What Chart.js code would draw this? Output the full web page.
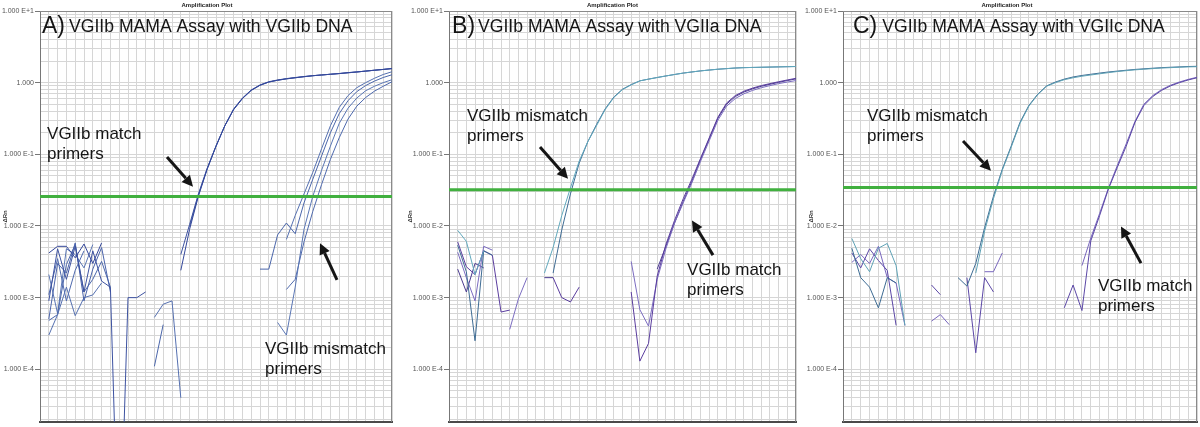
<!DOCTYPE html>
<html>
<head>
<meta charset="utf-8">
<script src="https://cdn.jsdelivr.net/npm/chart.js@4"></script>
<style>
  html, body { margin: 0; padding: 0; background: #fff; }
  body { width: 1200px; height: 427px; position: relative; overflow: hidden; }
  .panel { position: absolute; top: 0; height: 427px; }
</style>
</head>
<body>
<div class="panel" style="left:0;width:396px"><canvas id="panelA"></canvas></div>
<div class="panel" style="left:400px;width:398px"><canvas id="panelB"></canvas></div>
<div class="panel" style="left:800px;width:400px"><canvas id="panelC"></canvas></div>
<script>
// cycle numbers (x) shared by every well
const cycles = [1, 2, 3, 4, 5, 6, 7, 8, 9, 10, 11, 12, 13, 14, 15, 16, 17, 18, 19, 20,
  21, 22, 23, 24, 25, 26, 27, 28, 29, 30, 31, 32, 33, 34, 35, 36, 37, 38, 39, 40];

// log axis: labelled decades
const yDecades = [10, 1, 0.1, 0.01, 0.001, 0.0001];
const yTickLabels = ['1.000 E+1', '1.000', '1.000 E-1', '1.000 E-2', '1.000 E-3', '1.000 E-4'];
const yMin = 1.85e-5;
const yMax = 10;

const gap = (n) => Array(n).fill(null);

// A) VGIIb assay, VGIIb DNA
const aThreshold = 0.0257;
const aMatch1 = [0.0042, 0.0052, 0.0052, 0.0036, 0.0056, 0.0030, 0.0058, ...gap(8),
  0.0024, 0.0090, 0.026, 0.062, 0.13, 0.25, 0.42, 0.60, 0.78, 0.92, 1.02, 1.08, 1.13, 1.17,
  1.21, 1.25, 1.28, 1.31, 1.34, 1.38, 1.41, 1.45, 1.49, 1.53, 1.58];
const aMatch2 = [0.0009, 0.0048, 0.0018, 0.0052, 0.0012, 0.0045, 0.0017, 0.0014, 1e-7, 0.0010,
  0.0010, 0.0012, ...gap(3), 0.0040, 0.0105, 0.028, 0.064, 0.13, 0.25, 0.43, 0.61, 0.79, 0.93,
  1.03, 1.09, 1.14, 1.18, 1.22, 1.25, 1.28, 1.31, 1.34, 1.37, 1.41, 1.45, 1.49, 1.53, 1.57];
const aMatch3 = [0.0005, 0.0030, 0.0022, 0.0058, 0.0009, 0.0025, 0.0050, 0.0012, ...gap(8),
  0.0098, 0.027, 0.063, 0.13, 0.25, 0.42, 0.60, 0.78, 0.92, 1.02, 1.08, 1.13, 1.17, 1.21,
  1.25, 1.28, 1.31, 1.34, 1.38, 1.41, 1.45, 1.49, 1.53, 1.57];
const aMis1 = [0.0003, 0.00058, 0.0014, 0.00056, 0.0010, 0.00109, 0.0016, ...gap(5),
  0.00053, 0.00081, 0.0009, 0.00004, ...gap(11),
  0.0065, 0.014, 0.028, 0.056, 0.12, 0.25, 0.45, 0.66, 0.85, 1.0, 1.15, 1.3, 1.42];
const aMis2 = [0.00048, 0.00058, 0.0029, 0.0055, 0.0012, 0.0018, 0.0032, 0.0014, ...gap(4),
  0.00011, 0.00042, ...gap(10),
  0.0025, 0.0025, 0.0075, 0.011, 0.0078, 0.021, 0.045, 0.095, 0.2, 0.37, 0.56, 0.75, 0.91, 1.05, 1.18, 1.29];
const aMis3 = [0.0021, 0.0006, 0.0048, 0.0040, 0.0026, 0.0055, ...gap(20),
  0.00045, 0.0003, 0.0014, 0.009, 0.026, 0.06, 0.13, 0.27, 0.44, 0.61, 0.77, 0.89, 1.0, 1.10];
const aMis4 = [0.0011, 0.0035, 0.0009, 0.0024, 0.0045, ...gap(22),
  0.0013, 0.0018, 0.006, 0.016, 0.038, 0.085, 0.17, 0.31, 0.47, 0.62, 0.76, 0.89, 1.03];

// B) VGIIb assay, VGIIa DNA
const bThreshold = 0.0321;
const bMis1 = [0.0087, 0.0061, 0.0021, 0.0045, ...gap(6),
  0.0022, 0.005, 0.014, 0.034, 0.08, 0.15, 0.25, 0.42, 0.62, 0.8, 0.93, 1.06, 1.12, 1.18, 1.24,
  1.3, 1.36, 1.41, 1.46, 1.5, 1.54, 1.57, 1.6, 1.62, 1.63, 1.64, 1.65, 1.66, 1.67, 1.68];
const bMis2 = [0.0054, 0.0023, 0.00025, 0.0045, 0.0039, ...gap(6),
  0.0022, 0.0088, 0.028, 0.075, 0.15, 0.26, 0.43, 0.63, 0.81, 0.94, 1.06, 1.12, 1.18, 1.24,
  1.3, 1.36, 1.41, 1.46, 1.5, 1.54, 1.57, 1.6, 1.62, 1.63, 1.64, 1.65, 1.66, 1.67, 1.68];
const bMatch1 = [0.0060, 0.0027, 0.0021, 0.0045, 0.0039, 0.00063, 0.00067, ...gap(4),
  0.0019, 0.0010, 0.00087, 0.0014, ...gap(5),
  0.0012, 0.00013, 0.00023, 0.0020, 0.0055, 0.012, 0.024, 0.045, 0.088, 0.17,
  0.33, 0.52, 0.66, 0.76, 0.84, 0.91, 0.97, 1.03, 1.09, 1.15];
const bMatch2 = [0.0043, 0.0019, 0.0009, 0.0052, 0.0046, null, 0.00036, 0.00096, 0.0019, ...gap(11),
  0.0032, 0.00068, 0.0004, 0.0018, 0.0048, 0.011, 0.021, 0.04, 0.08, 0.155,
  0.3, 0.47, 0.6, 0.7, 0.78, 0.85, 0.91, 0.97, 1.02, 1.07];
const bMatch3 = [0.0025, 0.0012, 0.0030, 0.0026, ...gap(6), 0.0019, 0.0019, ...gap(11),
  0.0025, 0.0052, 0.011, 0.022, 0.042, 0.085, 0.165, 0.32, 0.5, 0.64, 0.74, 0.82, 0.89, 0.95, 1.01, 1.07, 1.13];

// C) VGIIb assay, VGIIc DNA
const cThreshold = 0.0343;
const cMis1 = [0.0067, 0.0035, 0.0023, 0.0049, 0.0057, 0.0028, 0.00041, ...gap(7),
  0.0022, 0.0085, 0.024, 0.06, 0.125, 0.27, 0.47, 0.68, 0.89, 1.0, 1.1, 1.17, 1.23, 1.28,
  1.33, 1.38, 1.43, 1.47, 1.51, 1.54, 1.57, 1.6, 1.62, 1.64, 1.66, 1.67];
const cMis2 = [0.0049, 0.0019, 0.0014, 0.00072, 0.0019, 0.0016, ...gap(6), 0.0019, 0.00145,
  0.0030, 0.0095, 0.026, 0.062, 0.13, 0.28, 0.48, 0.69, 0.9, 1.02, 1.12, 1.2, 1.26, 1.31,
  1.36, 1.41, 1.45, 1.49, 1.53, 1.56, 1.59, 1.62, 1.64, 1.66, 1.68, 1.69];
const cMatch1 = [0.0042, 0.0026, 0.0048, 0.0033, 0.0024, 0.00041, ...gap(3), 0.0015, 0.0011, ...gap(2),
  0.0019, 0.00017, 0.0019, 0.0012, ...gap(7),
  0.00072, 0.0015, 0.00066, 0.0062, 0.014, 0.033, 0.066, 0.13, 0.28, 0.48, 0.64, 0.78, 0.9, 1.0, 1.09, 1.17];
const cMatch2 = [0.0031, 0.0040, 0.0030, 0.0052, 0.0019, 0.0016, 0.00041, ...gap(2),
  0.00047, 0.00058, 0.00042, ...gap(3), 0.0023, 0.0023, 0.0042, ...gap(8),
  0.0028, 0.0068, 0.015, 0.034, 0.07, 0.14, 0.29, 0.5, 0.66, 0.8, 0.92, 1.02, 1.11, 1.19];

// minor + major log grid
const yGrid = [];
for (let e = -5; e <= 0; e++) {
  for (let k = 1; k <= 9; k++) {
    const v = Number((k * Math.pow(10, e)).toPrecision(3));
    if (v >= yMin) yGrid.push(v);
  }
}
yGrid.push(10);

const FONT = '"Liberation Sans", Arial, Helvetica, sans-serif';
Chart.defaults.font.family = FONT;

const panels = [
  {
    id: 'panelA', axisWidth: 40, rightPad: 4, rnPad: 1.5, titleShift: -9,
    letter: 'A)', heading: 'VGIIb MAMA Assay with VGIIb DNA', headAt: [0.23, 4.96], headGap: 4,
    threshold: aThreshold,
    wells: [[aMatch1, '#34479a'], [aMatch2, '#3d52a0'], [aMatch3, '#4a63aa'],
      [aMis1, '#5570b0'], [aMis2, '#4b66aa'], [aMis3, '#5a76b4'], [aMis4, '#4e69ad']],
    notes: [{lines: ['VGIIb match', 'primers'], at: [0.8, 0.163]},
      {lines: ['VGIIb mismatch', 'primers'], at: [25.57, 1.61e-4]}],
    arrows: [[[14.43, 0.092], [17.39, 0.0354]], [[33.75, 1.77e-3], [31.82, 5.74e-3]]]
  },
  {
    id: 'panelB', axisWidth: 49, rightPad: 2, rnPad: 7, titleShift: -10,
    letter: 'B)', heading: 'VGIIb MAMA Assay with VGIIa DNA', headAt: [0.35, 4.96], headGap: 3,
    threshold: bThreshold,
    wells: [[bMis1, '#62a9bd'], [bMis2, '#3f6c94'], [bMatch1, '#5a3d9e'],
      [bMatch2, '#7b6cc0'], [bMatch3, '#4a3a8e']],
    notes: [{lines: ['VGIIb mismatch', 'primers'], at: [2.07, 0.290]},
      {lines: ['VGIIb match', 'primers'], at: [27.44, 2.07e-3]}],
    arrows: [[[10.49, 0.1265], [13.72, 0.0456]], [[30.43, 3.92e-3], [28.01, 0.01197]]]
  },
  {
    id: 'panelC', axisWidth: 43, rightPad: 3, rnPad: 8, titleShift: -13,
    letter: 'C)', heading: 'VGIIb MAMA Assay with VGIIc DNA', headAt: [1.13, 4.96], headGap: 5,
    threshold: cThreshold,
    wells: [[cMis1, '#5fa2b5'], [cMis2, '#3c6a92'], [cMatch1, '#5b47a6'], [cMatch2, '#7866bd']],
    notes: [{lines: ['VGIIb mismatch', 'primers'], at: [2.71, 0.290]},
      {lines: ['VGIIb match', 'primers'], at: [28.81, 1.24e-3]}],
    arrows: [[[13.56, 0.153], [16.72, 0.0589]], [[33.67, 3.03e-3], [31.41, 9.87e-3]]]
  }
];

const drawArrow = (ctx, x1, y1, x2, y2) => {
  const ang = Math.atan2(y2 - y1, x2 - x1);
  const head = 11, half = 5.5;
  const bx = x2 - head * Math.cos(ang);
  const by = y2 - head * Math.sin(ang);
  ctx.lineWidth = 3;
  ctx.beginPath();
  ctx.moveTo(x1, y1);
  ctx.lineTo(bx, by);
  ctx.stroke();
  ctx.beginPath();
  ctx.moveTo(x2, y2);
  ctx.lineTo(bx + half * Math.sin(ang), by - half * Math.cos(ang));
  ctx.lineTo(bx - half * Math.sin(ang), by + half * Math.cos(ang));
  ctx.closePath();
  ctx.fill();
};

const notesFor = (panel) => ({
  id: 'notes',
  beforeDatasetsDraw(chart) {
    const {ctx, chartArea: a} = chart;
    ctx.save();
    ctx.strokeStyle = '#8a8a8a';
    ctx.lineWidth = 1;
    ctx.beginPath();
    ctx.moveTo(a.left, a.top + 0.5);
    ctx.lineTo(a.right, a.top + 0.5);
    ctx.moveTo(a.right - 0.5, a.top);
    ctx.lineTo(a.right - 0.5, a.bottom);
    ctx.stroke();
    ctx.restore();
  },
  afterDatasetsDraw(chart) {
    const {ctx, chartArea: a, scales: {x, y}} = chart;
    ctx.save();
    ctx.fillStyle = '#222';
    ctx.textAlign = 'center';
    ctx.textBaseline = 'alphabetic';
    ctx.font = 'bold 6px ' + FONT;
    ctx.fillText('Amplification Plot', (a.left + a.right) / 2 + panel.titleShift, 7);

    ctx.fillStyle = '#151515';
    ctx.strokeStyle = '#151515';
    ctx.textAlign = 'left';
    const hx = x.getPixelForValue(panel.headAt[0]);
    const hy = y.getPixelForValue(panel.headAt[1]);
    ctx.font = '23px ' + FONT;
    ctx.fillText(panel.letter, hx, hy);
    const lw = ctx.measureText(panel.letter).width;
    ctx.font = '17.6px ' + FONT;
    ctx.fillText(panel.heading, hx + lw + panel.headGap, hy - 1);

    ctx.font = '17px ' + FONT;
    panel.notes.forEach((n) => {
      const px = x.getPixelForValue(n.at[0]);
      const py = y.getPixelForValue(n.at[1]);
      n.lines.forEach((t, i) => ctx.fillText(t, px, py + i * 20));
    });
    panel.arrows.forEach(([from, to]) => {
      drawArrow(ctx, x.getPixelForValue(from[0]), y.getPixelForValue(from[1]),
        x.getPixelForValue(to[0]), y.getPixelForValue(to[1]));
    });
    ctx.restore();
  }
});

panels.forEach((panel) => {
  const datasets = [{
    data: [{x: 0, y: panel.threshold}, {x: 40, y: panel.threshold}],
    borderColor: '#41b03f', borderWidth: 3, pointRadius: 0
  }];
  panel.wells.forEach(([data, color]) => {
    datasets.push({data, borderColor: color, borderWidth: 1, pointRadius: 0, tension: 0, fill: false});
  });

  new Chart(document.getElementById(panel.id), {
    type: 'line',
    data: {labels: cycles, datasets},
    options: {
      responsive: true,
      maintainAspectRatio: false,
      animation: false,
      devicePixelRatio: 1,
      layout: {padding: {top: 11, right: panel.rightPad, bottom: 0, left: 0}},
      plugins: {legend: {display: false}, tooltip: {enabled: false}, title: {display: false}},
      scales: {
        x: {
          type: 'linear', min: 0, max: 40,
          ticks: {display: false, stepSize: 1},
          grid: {color: '#d6d6d6', drawTicks: false},
          border: {color: '#4a4a4a', width: 2},
          afterFit: (s) => { s.height = 2; }
        },
        y: {
          type: 'logarithmic', min: yMin, max: yMax, bounds: 'data',
          afterBuildTicks: (s) => { s.ticks = yGrid.map((v) => ({value: v})); },
          afterFit: (s) => { s.width = panel.axisWidth; },
          ticks: {
            autoSkip: false, padding: 1, color: '#555',
            font: {size: 7},
            callback: (v) => {
              const i = yDecades.indexOf(v);
              return i < 0 ? '' : yTickLabels[i];
            }
          },
          grid: {
            color: '#d6d6d6', tickLength: 5,
            tickColor: (c) => (c.tick && yDecades.includes(c.tick.value) ? '#777' : 'rgba(0,0,0,0)')
          },
          border: {color: '#777', width: 1},
          title: {
            display: true, text: 'ΔRn', color: '#333',
            font: {size: 6, weight: 'bold'},
            padding: {top: panel.rnPad, bottom: 0}
          }
        }
      }
    },
    plugins: [notesFor(panel)]
  });
});
</script>
</body>
</html>
